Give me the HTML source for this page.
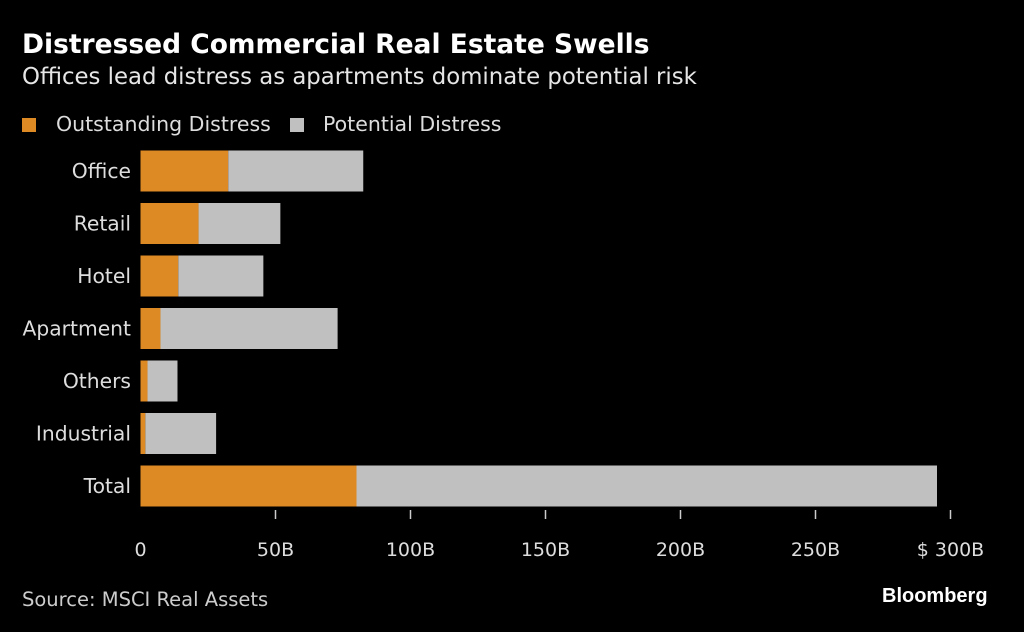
<!DOCTYPE html>
<html><head><meta charset="utf-8"><style>
body{margin:0;background:#000;width:1024px;height:632px;overflow:hidden;font-family:"DejaVu Sans","Liberation Sans",sans-serif;color:#fff}
.t{position:absolute;white-space:nowrap}
</style></head><body>
<div class="t" style="left:22px;top:29px;font-size:26.5px;font-weight:bold;color:#fff">Distressed Commercial Real Estate Swells</div>
<div class="t" style="left:22px;top:64px;font-size:22.8px;color:#e6e6e6">Offices lead distress as apartments dominate potential risk</div>
<div class="t" style="left:22px;top:112px;font-size:20.5px;color:#ddd"><span style="display:inline-block;width:14px;height:14px;background:#dd8a25;margin-right:20px;vertical-align:-1px"></span>Outstanding Distress</div>
<div class="t" style="left:290px;top:112px;font-size:20.5px;color:#ddd"><span style="display:inline-block;width:14px;height:14px;background:#c0c0c0;margin-right:19px;vertical-align:-1px"></span>Potential Distress</div>
<svg id="chart" width="1024" height="632" style="position:absolute;left:0;top:0"></svg>
<div class="t" style="left:22px;top:588px;font-size:19.5px;color:#ccc">Source: MSCI Real Assets</div>
<div class="t" style="left:882px;top:585px;font-size:20px;font-weight:bold;color:#fff;font-family:'Liberation Sans',sans-serif">Bloomberg</div>
<script>
const categories=["Office","Retail","Hotel","Apartment","Others","Industrial","Total"];
const outstanding=[32.5,21.5,14,7.4,2.6,1.8,80];
const potential=[50,30.3,31.5,65.6,11.1,26.2,215];
const ticks=[0,50,100,150,200,250,300];
const tickLabels=["0","50B","100B","150B","200B","250B","$ 300B"];
const svg=document.getElementById('chart');
const NS="http://www.w3.org/2000/svg";
const x0=140.5,pxPer=2.7;
const xs=v=>x0+v*pxPer;
const yc=i=>171+i*52.5;
function mk(tag,attrs){const e=document.createElementNS(NS,tag);for(const k in attrs)e.setAttribute(k,attrs[k]);svg.appendChild(e);return e;}
categories.forEach((c,i)=>{
  const y=yc(i)-20.5;
  const r1=mk('rect',{x:xs(0),y:y,width:xs(outstanding[i])-xs(0),height:41,fill:'#dd8a25'});
  
  
  const r2=mk('rect',{x:xs(outstanding[i]),y:y,width:xs(outstanding[i]+potential[i])-xs(outstanding[i]),height:41,fill:'#c0c0c0'});
  
  
  const t=mk('text',{x:131,y:yc(i)+7,'text-anchor':'end','font-size':20.3,fill:'#ddd','font-family':'DejaVu Sans, sans-serif'});
  t.textContent=c;
  
  
});
ticks.forEach((v,i)=>{
  if(v>0){const l=mk('line',{x1:xs(v),x2:xs(v),y1:510,y2:519,stroke:'#ccc','stroke-width':1.5});
  
  }
  const t=mk('text',{x:xs(v),y:556,'text-anchor':'middle','font-size':19,fill:'#ddd','font-family':'DejaVu Sans, sans-serif'});
  t.textContent=tickLabels[i];
  
  
});
</script>
</body></html>
